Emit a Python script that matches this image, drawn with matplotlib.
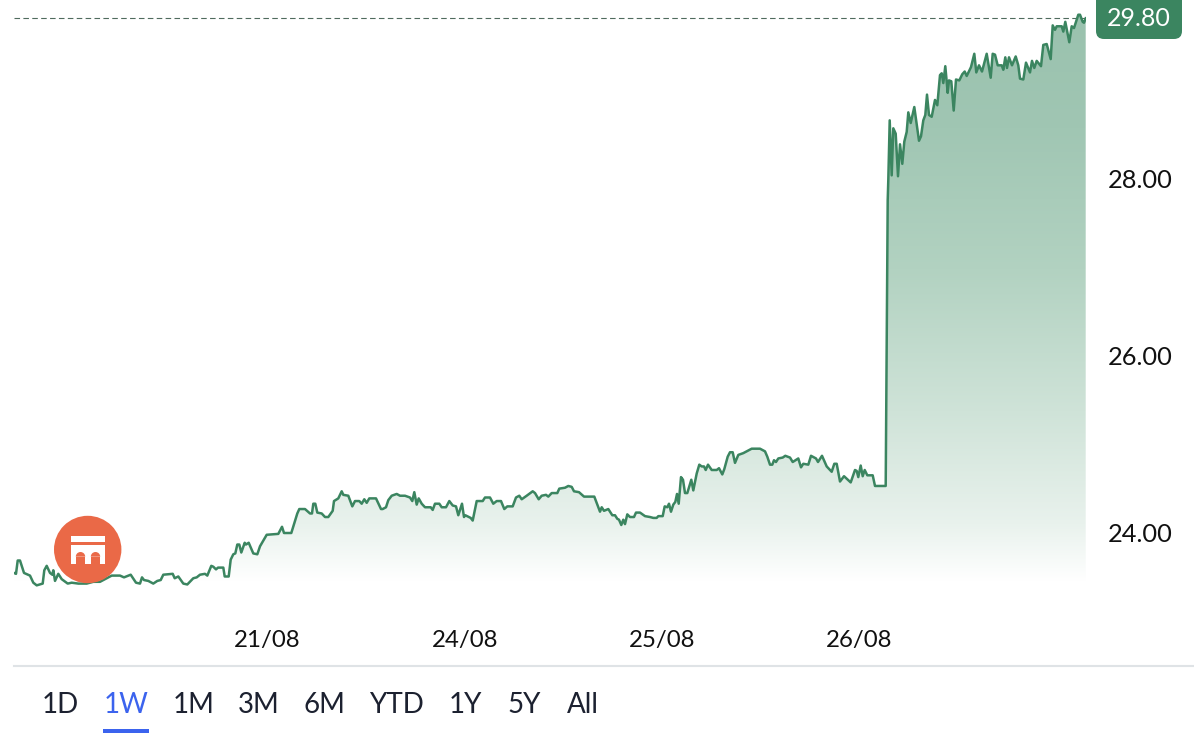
import matplotlib
matplotlib.use("Agg")
import matplotlib.pyplot as plt
import numpy as np
from matplotlib.colors import LinearSegmentedColormap
from matplotlib.patches import Circle, FancyBboxPatch, Rectangle, Wedge

# bar number across the week, not evenly spaced, just where the line turns
bars = [
    0, 2, 3.7, 6, 10, 16, 19.3, 22.7, 28.7, 30.3, 32.7, 36, 38.3, 39.3, 41, 44.3, 47.7, 53.7, 57.7, 64.3,
    72.7, 79.3, 86, 97.7, 106, 110, 116.7, 122, 126, 128, 130, 134.3, 139.3, 143.3, 146.7, 149.3, 158.7,
    160.7, 164.3, 169.3, 173.3, 179.3, 182.7, 186, 191, 193.3, 197.3, 199.3, 202, 204, 209.3, 210.7, 214.7,
    216.7, 219.3, 221.3, 223.3, 225.3, 227.3, 230.7, 232, 234.7, 239.3, 243.3, 246, 252.7, 264.3, 268, 270,
    277.3, 283.3, 285.3, 291, 296, 298, 299.3, 301.3, 303.3, 307.7, 311, 314.3, 318.7, 320, 324.3, 327.7,
    329.3, 334.3, 338.3, 341, 345.3, 347.7, 350.3, 352.7, 355.3, 362, 367, 368.7, 372, 374.3, 377.7, 382.7,
    386, 391, 396, 398.3, 400.3, 402.7, 404.7, 407.7, 411, 416.7, 418.7, 421, 425.3, 427.7, 432, 435.3,
    438.7, 442, 444.3, 448, 450, 451.3, 456.7, 458.7, 462.7, 468.7, 471, 476, 479.3, 482.7, 487, 490.3,
    493.3, 498.7, 502, 505.3, 507.7, 512.7, 518.7, 521, 524.7, 527.7, 532, 534.3, 537.7, 543.3, 545.3, 551,
    554.3, 557.7, 560, 565, 570, 580.3, 586, 587.7, 590, 594.3, 598.3, 601, 603.3, 605, 607.3, 609.3, 611,
    613.3, 616, 620, 622, 626, 631, 636, 639.3, 642.7, 644.3, 648.7, 650.7, 653.3, 655, 657, 659.3, 661.3,
    663, 664.7, 667, 669, 671, 673.3, 677.3, 679.3, 682.7, 685.3, 687.7, 690, 691.7, 694, 697.7, 702.7, 705,
    708.3, 710.3, 713.7, 716, 718.7, 721, 724.3, 729.3, 734.3, 737.7, 746, 751, 753.3, 756, 758.3, 760, 762,
    764.3, 768.7, 771.3, 776, 778.7, 784.3, 787, 789.3, 794.3, 797, 802, 804, 808, 812.7, 817.7, 820.3,
    822.7, 826, 830, 836.7, 841, 842.7, 844.3, 846.7, 848.7, 850.7, 853.3, 858.7, 861, 871.7,
    873.7, 874.3, 875.7, 877.7, 879.3, 881.7, 884, 886, 888.3, 890.3, 892.7, 894.3, 896.7, 900.3, 905, 907,
    909.3, 911.3, 913, 915, 917.7, 921, 923.3, 926, 927.7, 929.3, 931.3, 933.7, 935, 937.3, 939.7, 942,
    945.3, 948.3, 950.7, 952.7, 957, 960.3, 962.3, 965, 968, 972.7, 976.7, 978.7, 981, 983.7, 987.7, 989.3,
    991.3, 993, 995, 998, 1001.7, 1004.3, 1006, 1009.3, 1012, 1016, 1018, 1020.3, 1022.7, 1027, 1029.3,
    1032.7, 1036.7, 1038.7, 1041, 1042.7, 1047.7, 1049.3, 1051.3, 1055.3, 1057.7, 1060, 1064.3, 1066, 1068.7,
    1070, 1071.7,
]
prices = [
    23.55, 23.54, 23.69, 23.69, 23.55, 23.52, 23.44, 23.41, 23.43, 23.58, 23.63, 23.55, 23.53, 23.58, 23.46,
    23.54, 23.48, 23.43, 23.44, 23.43, 23.43, 23.45, 23.45, 23.52, 23.52, 23.50, 23.53, 23.44, 23.43, 23.50,
    23.47, 23.46, 23.43, 23.46, 23.47, 23.53, 23.54, 23.49, 23.51, 23.43, 23.42, 23.49, 23.50, 23.53, 23.54,
    23.52, 23.63, 23.62, 23.59, 23.61, 23.61, 23.51, 23.51, 23.70, 23.76, 23.77, 23.87, 23.87, 23.78, 23.89,
    23.87, 23.89, 23.77, 23.76, 23.85, 23.98, 23.99, 24.07, 24.00, 24.00, 24.22, 24.27, 24.27, 24.22, 24.22,
    24.33, 24.33, 24.23, 24.22, 24.18, 24.18, 24.25, 24.36, 24.39, 24.47, 24.43, 24.42, 24.30, 24.36, 24.36,
    24.33, 24.38, 24.34, 24.39, 24.39, 24.27, 24.27, 24.29, 24.37, 24.42, 24.44,
    24.42, 24.42, 24.40, 24.36, 24.46, 24.32, 24.39, 24.33, 24.29, 24.29, 24.26, 24.33, 24.33, 24.29, 24.29,
    24.36, 24.31, 24.30, 24.20, 24.33, 24.18, 24.20, 24.17, 24.14, 24.36, 24.36, 24.40, 24.40, 24.33, 24.36,
    24.36, 24.27, 24.30, 24.30, 24.40, 24.42, 24.38, 24.42, 24.47, 24.45, 24.38, 24.42, 24.43, 24.41, 24.45,
    24.45, 24.50, 24.51, 24.53, 24.52, 24.47, 24.46, 24.41, 24.41, 24.24, 24.29, 24.25, 24.27, 24.20, 24.20,
    24.16, 24.15, 24.09, 24.15, 24.10, 24.21, 24.18, 24.18, 24.23, 24.23, 24.19, 24.18, 24.17, 24.17, 24.19,
    24.19, 24.30, 24.29, 24.33, 24.24, 24.32, 24.35, 24.44, 24.33, 24.63, 24.60, 24.45, 24.45, 24.60, 24.48,
    24.67, 24.77, 24.75, 24.75, 24.71, 24.77, 24.71, 24.71, 24.73, 24.66, 24.72, 24.86, 24.91, 24.91, 24.79,
    24.88, 24.90, 24.93, 24.95, 24.95, 24.92, 24.86, 24.77, 24.77, 24.82, 24.80, 24.84, 24.85, 24.87, 24.85,
    24.80, 24.84, 24.74, 24.78, 24.77, 24.87, 24.84, 24.80, 24.87, 24.75, 24.69, 24.78, 24.78, 24.58, 24.64,
    24.57, 24.71, 24.70, 24.63, 24.76, 24.64, 24.71, 24.65, 24.65, 24.53, 24.53,
    27.75, 27.98, 28.65, 28.03, 28.56, 28.50, 28.02, 28.38, 28.16, 28.41, 28.52, 28.74, 28.62, 28.80, 28.42,
    28.47, 28.65, 28.71, 28.94, 28.71, 28.69, 28.88, 28.82, 29.16, 29.18, 29.07, 29.26, 28.96, 29.10, 29.09,
    28.76, 29.11, 29.10, 29.17, 29.20, 29.15, 29.25, 29.40, 29.19, 29.27, 29.20, 29.40, 29.13, 29.40, 29.39,
    29.27, 29.27, 29.22, 29.36, 29.24, 29.36, 29.27, 29.37, 29.27, 29.12, 29.11, 29.30, 29.19, 29.32, 29.24,
    29.32, 29.26, 29.50, 29.51, 29.34, 29.72, 29.67, 29.71, 29.71, 29.65, 29.76, 29.53, 29.71, 29.69, 29.84,
    29.84, 29.76, 29.75, 29.80,
]
last_price = 29.80
price_ticks = [24, 26, 28]
date_ticks = [253, 451, 648, 845]
date_labels = ["21/08", "24/08", "25/08", "26/08"]
ranges = ["1D", "1W", "1M", "3M", "6M", "YTD", "1Y", "5Y", "All"]
range_centers = [60, 126, 194, 259, 324, 396, 465, 524, 583]

plt.rcParams["font.family"] = ["Lato", "DejaVu Sans"]
GREEN = "#3b8560"
W, H = 1194, 746

fig = plt.figure(figsize=(W / 100, H / 100), dpi=100)
ax = fig.add_axes([14 / W, (H - 600) / H, 1072 / W, 600 / H])
ax.set_xlim(0, 1072)
ax.set_ylim(23.245, 30.006)
for s in ax.spines.values():
    s.set_visible(False)

# gradient under the line, clipped to the area shape
fill = ax.fill_between(bars, prices, 23.2, color="none", lw=0)
cmap = LinearSegmentedColormap.from_list(
    "area", [(0, "#ffffff"), (0.1, "#e9f2ed"), (0.3, "#cfe3d8"), (0.55, "#b2d2c1"), (0.8, "#a0c6b3"), (1, "#9ac2ae")]
)
grad = np.linspace(1, 0, 256).reshape(-1, 1)
im = ax.imshow(grad, extent=[0, 1072, 23.45, 29.85], aspect="auto", cmap=cmap, vmin=0, vmax=1, zorder=1)
im.set_clip_path(fill.get_paths()[0], transform=ax.transData)
ax.set_xlim(0, 1072)
ax.set_ylim(23.245, 30.006)

ax.plot(bars, prices, color=GREEN, lw=1.8, zorder=3, solid_joinstyle="round")
ax.axhline(last_price, color="#4f6b5d", lw=0.8, dashes=(5, 3), zorder=2)

ax.yaxis.tick_right()
ax.set_yticks(price_ticks)
ax.set_yticklabels([f"{p:.2f}" for p in price_ticks], fontsize=18.3, color="#111111")
ax.set_xticks(date_ticks)
ax.set_xticklabels(date_labels, fontsize=17.3, color="#111111")
ax.tick_params(axis="y", length=0, pad=16)
ax.tick_params(axis="x", length=0, pad=21.5)

# page furniture drawn in pixel coordinates
top = fig.add_axes([0, 0, 1, 1], facecolor="none")
top.set_xlim(0, W)
top.set_ylim(H, 0)
top.axis("off")

top.add_patch(FancyBboxPatch((1096, -20), 86, 59, boxstyle="round,pad=0,rounding_size=8", fc=GREEN, ec="none"))
top.text(1139, 18, f"{last_price:.2f}", color="white", fontsize=18, ha="center", va="center")

top.add_patch(Circle((87.7, 549.5), 33.7, fc="#ea6947", ec="none"))
top.add_patch(Rectangle((71, 536), 34, 6, fc="white", ec="none"))
top.add_patch(Rectangle((71, 545.3), 34, 18.7, fc="white", ec="none"))
for cx in (80.5, 95.5):
    top.add_patch(Rectangle((cx - 4.7, 556.7), 9.4, 7.5, fc="#ea6947", ec="none"))
    top.add_patch(Wedge((cx, 556.7), 4.7, 180, 360, fc="#ea6947", ec="none"))

top.plot([14, W], [666, 666], color="#dfe3e6", lw=1.5)
for name, cx in zip(ranges, range_centers):
    col = "#3b63ee" if name == "1W" else "#1c2130"
    top.text(cx, 705, name, color=col, fontsize=20, ha="center", va="center")
top.add_patch(Rectangle((103, 729), 46, 4, fc="#3b63ee", ec="none"))

fig.savefig("out.png", dpi=100)
